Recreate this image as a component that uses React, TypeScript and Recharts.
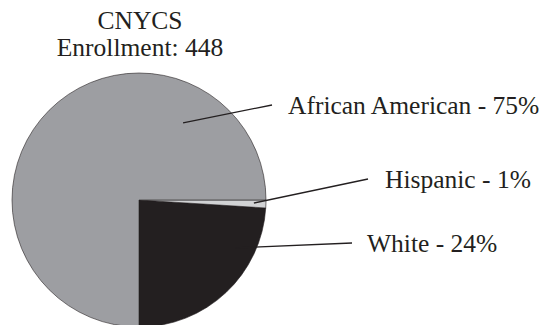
import React from "react";
import { PieChart, Pie, Cell } from "recharts";

// Data
const categories = ["White", "Hispanic", "African American"];
const percents = [24, 1, 75];
const titleLines = ["CNYCS", "Enrollment: 448"];

// Styles / layout (kept separate from data)
const sliceColors = ["#231f20", "#d1d2d4", "#9d9ea2"];
const FONT = '"Liberation Serif", serif';
const TEXT_COLOR = "#231f20";
const textStyle: React.CSSProperties = { fontFamily: FONT, fontSize: 25.5 };
// label leader geometry: inner point in polar (deg, fraction of radius), outer end offset from centre (px)
const labelLayout = [
  { angle: -26.3, frac: 0.85, dx: 213, dy: 43, gap: 15 },
  { angle: -1.5, frac: 0.905, dx: 229, dy: -21, gap: 17 },
  { angle: 60.3, frac: 0.7, dx: 133, dy: -95, gap: 16 },
];

const data = categories.map((name, i) => ({ name, value: percents[i] }));

const RAD = Math.PI / 180;

const renderLabel = (props: any) => {
  const { cx, cy, outerRadius, index, name, value } = props;
  const L = labelLayout[index];
  const x1 = cx + outerRadius * L.frac * Math.cos(L.angle * RAD);
  const y1 = cy - outerRadius * L.frac * Math.sin(L.angle * RAD);
  const x2 = cx + L.dx;
  const y2 = cy + L.dy;
  return (
    <g key={`lbl-${index}`}>
      <line x1={x1} y1={y1} x2={x2} y2={y2} stroke={TEXT_COLOR} strokeWidth={1.3} />
      <text x={x2 + L.gap} y={y2 + 9} fill={TEXT_COLOR} style={textStyle} textAnchor="start">
        {`${name} - ${value}%`}
      </text>
    </g>
  );
};

export default function App() {
  return (
    <div
      style={{
        position: "absolute",
        left: 0,
        top: 0,
        width: 544,
        height: 325,
        background: "#fff",
        fontFamily: FONT,
      }}
    >
      <PieChart width={544} height={325} margin={{ top: 0, right: 0, bottom: 0, left: 0 }}>
        <text x={140} y={29} textAnchor="middle" style={textStyle} fill={TEXT_COLOR}>
          {titleLines[0]}
        </text>
        <text x={140} y={56} textAnchor="middle" style={textStyle} fill={TEXT_COLOR}>
          {titleLines[1]}
        </text>
        <Pie
          data={data}
          dataKey="value"
          nameKey="name"
          cx={139}
          cy={200}
          outerRadius={127}
          innerRadius={0}
          startAngle={-90}
          endAngle={270}
          stroke="#231f20"
          strokeWidth={0.6}
          label={renderLabel}
          labelLine={false}
          isAnimationActive={false}
        >
          {data.map((d, i) => (
            <Cell key={d.name} fill={sliceColors[i]} />
          ))}
        </Pie>
      </PieChart>
    </div>
  );
}
